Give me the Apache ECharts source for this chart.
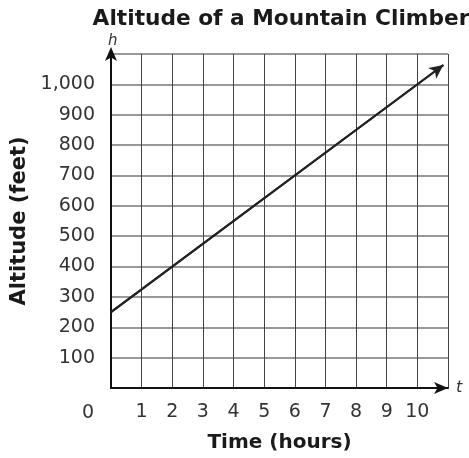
<!DOCTYPE html>
<html>
<head>
<meta charset="utf-8">
<script src="https://cdn.jsdelivr.net/npm/echarts@6/dist/echarts.min.js"></script>
<style>
  html, body { margin: 0; padding: 0; background: #fff; }
  #chart { width: 469px; height: 458px; }
</style>
</head>
<body>
<div id="chart"></div>
<script>
// data
const timeTicks = [0, 1, 2, 3, 4, 5, 6, 7, 8, 9, 10, 11]
const altitudeTicks = [0, 100, 200, 300, 400, 500, 600, 700, 800, 900, 1000, 1100]
const climbTime = [0, 10.85]
const climbAltitude = [250, 1064]

const font = 'DejaVu Sans, Verdana, sans-serif'
const points = climbTime.map((t, i) => [t, climbAltitude[i]])

const chart = echarts.init(document.getElementById('chart'))

const options = {
  animation: false,
  backgroundColor: '#fff',
  title: {
    text: 'Altitude of a Mountain Climber',
    left: 276,
    top: 3,
    textAlign: 'center',
    textStyle: { fontFamily: font, fontSize: 21.7, fontWeight: 'bold', color: '#1a1a1a' },
  },
  grid: { left: 111, right: 21, top: 54, bottom: 68 },
  xAxis: {
    type: 'value',
    min: timeTicks[0],
    max: timeTicks[timeTicks.length - 1],
    interval: 1,
    name: 'Time (hours)',
    nameLocation: 'middle',
    nameGap: 45,
    nameTextStyle: { fontFamily: font, fontSize: 20, fontWeight: 'bold', color: '#1a1a1a' },
    axisLine: {
      lineStyle: { color: '#111', width: 2 },
      symbol: ['none', 'arrow'],
      symbolSize: [9, 14],
    },
    axisTick: { show: false },
    axisLabel: {
      margin: 15,
      fontFamily: font,
      fontSize: 19,
      color: '#333',
      formatter: (v) => (v === 0 || v === 11 ? '' : String(v)),
    },
    splitLine: { show: true, lineStyle: { color: '#444', width: 1 } },
  },
  yAxis: {
    type: 'value',
    min: altitudeTicks[0],
    max: altitudeTicks[altitudeTicks.length - 1],
    interval: 100,
    name: 'Altitude (feet)',
    nameLocation: 'middle',
    nameGap: 80,
    nameTextStyle: { fontFamily: font, fontSize: 21, fontWeight: 'bold', color: '#1a1a1a' },
    axisLine: {
      lineStyle: { color: '#111', width: 2 },
      symbol: ['none', 'arrow'],
      symbolSize: [9, 14],
      symbolOffset: [0, 7],
    },
    axisTick: { show: false },
    axisLabel: {
      margin: 16,
      fontFamily: font,
      fontSize: 19,
      color: '#333',
      formatter: (v) => (v === 0 || v === 1100 ? '' : v.toLocaleString('en-US')),
    },
    splitLine: { show: true, lineStyle: { color: '#777', width: 1.5 } },
  },
  graphic: [
    { type: 'text', left: 108, top: 34, style: { text: 'h', font: 'italic 15px ' + font, fill: '#333' } },
    { type: 'text', left: 456, top: 380, style: { text: 't', font: 'italic 16px ' + font, fill: '#333' } },
    { type: 'text', left: 82, top: 404, style: { text: '0', font: '19px ' + font, fill: '#333' } },
  ],
  series: [
    {
      type: 'line',
      data: points,
      showSymbol: false,
      lineStyle: { color: '#222', width: 2 },
      markLine: {
        silent: true,
        symbol: ['none', 'arrow'],
        symbolSize: [10, 14],
        label: { show: false },
        lineStyle: { color: '#222', width: 2, type: 'solid' },
        data: [[{ coord: points[0] }, { coord: points[1] }]],
      },
    },
  ],
}

chart.setOption(options)
window.addEventListener('resize', () => {
  chart.resize()
})
</script>
</body>
</html>
